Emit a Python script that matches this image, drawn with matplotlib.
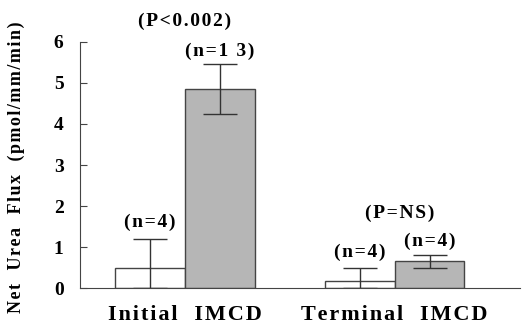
import matplotlib.pyplot as plt

plt.rcParams['font.family'] = ['Liberation Serif', 'DejaVu Serif']
plt.rcParams['font.weight'] = 'bold'

groups = ['Initial  IMCD', 'Terminal  IMCD']
means_open = [0.5, 0.18]
means_gray = [4.85, 0.65]
err_open = [0.7, 0.3]
err_gray = [0.6, 0.16]
n_open = ['(n=4)', '(n=4)']
n_gray = ['(n=1 3)', '(n=4)']
p_labels = ['(P<0.002)', '(P=NS)']

pos_open = [1, 4]
pos_gray = [2, 5]


def spaced(s):
    # the old typeset figure has wide letter spacing
    return '\u200a'.join(s)


fig = plt.figure(figsize=(5.24, 3.3), dpi=100)
ax = fig.add_axes([0.153, 0.127, 0.84, 0.746])

ax.bar(pos_open, means_open, width=1, color='white', edgecolor='#444444', linewidth=1)
ax.bar(pos_gray, means_gray, width=1, color='#b6b6b6', edgecolor='#444444', linewidth=1)
# open bars show only the upper half of the error bar
ax.errorbar(pos_open, means_open, yerr=[means_open, err_open], fmt='none',
            ecolor='#333333', elinewidth=1, capsize=12, capthick=1)
ax.errorbar(pos_gray, means_gray, yerr=err_gray, fmt='none',
            ecolor='#333333', elinewidth=1, capsize=12, capthick=1)

for i in range(2):
    ax.text(pos_open[i], means_open[i] + err_open[i] + 0.4, spaced(n_open[i]),
            ha='center', va='center', fontsize=14, fontweight='bold')
    ax.text(pos_gray[i], means_gray[i] + err_gray[i] + 0.33, spaced(n_gray[i]),
            ha='center', va='center', fontsize=14, fontweight='bold')

ax.text(1.49, 6.5, spaced(p_labels[0]), ha='center', va='center', fontsize=14,
        fontweight='bold', clip_on=False)
ax.text(4.57, 1.83, spaced(p_labels[1]), ha='center', va='center', fontsize=14,
        fontweight='bold')

ax.set_xlim(0, 6.3)
ax.set_ylim(0, 6)
ax.set_yticks(range(7))
ax.set_xticks([1.5, 4.5])
ax.set_xticklabels([spaced(g) for g in groups], fontsize=16, fontweight='bold')
ax.tick_params(axis='x', length=0, pad=12)
ax.tick_params(axis='y', direction='in', length=5, labelsize=14, pad=12,
               color='#444444')
for lab in ax.get_yticklabels():
    lab.set_fontweight('bold')

ax.spines['top'].set_visible(False)
ax.spines['right'].set_visible(False)
ax.spines['left'].set_color('#444444')
ax.spines['bottom'].set_color('#444444')

ax.set_ylabel(spaced('Net  Urea  Flux  (pmol/mm/min)'), fontsize=13, fontweight='bold')
ax.yaxis.set_label_coords(-0.125, 0.49)

fig.savefig('out.png', dpi=100)
